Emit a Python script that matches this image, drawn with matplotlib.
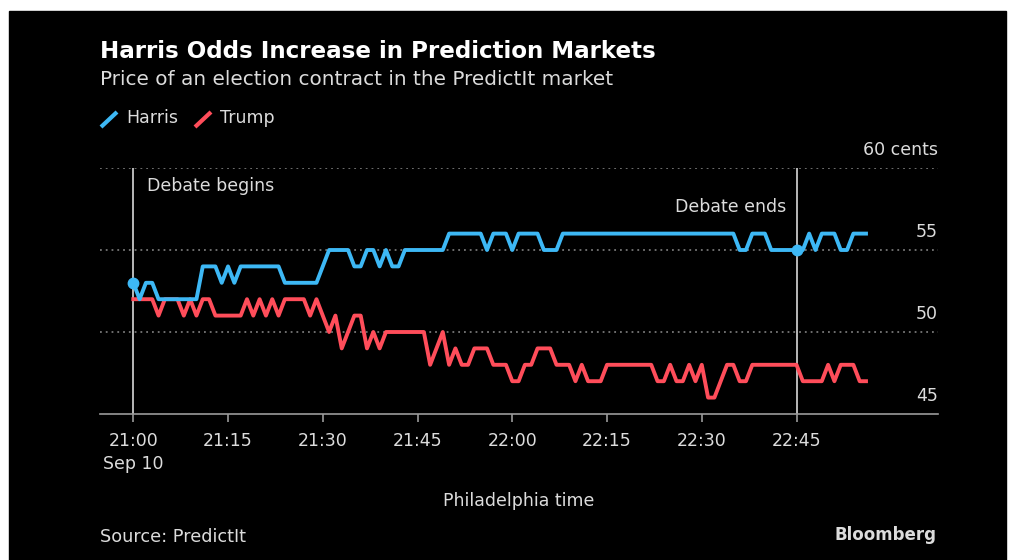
import matplotlib
matplotlib.use("Agg")
import matplotlib.pyplot as plt
from matplotlib.lines import Line2D
from matplotlib.patches import Rectangle
import pandas as pd

# PredictIt contract price (cents), one reading per minute from 21:00
harris = [53, 52, 53, 53, 52, 52, 52, 52, 52, 52,
          52, 54, 54, 54, 53, 54, 53, 54, 54, 54,
          54, 54, 54, 54, 53, 53, 53, 53, 53, 53,
          54, 55, 55, 55, 55, 54, 54, 55, 55, 54,
          55, 54, 54, 55, 55, 55, 55, 55, 55, 55,
          56, 56, 56, 56, 56, 56, 55, 56, 56, 56,
          55, 56, 56, 56, 56, 55, 55, 55, 56, 56,
          56, 56, 56, 56, 56, 56, 56, 56, 56, 56,
          56, 56, 56, 56, 56, 56, 56, 56, 56, 56,
          56, 56, 56, 56, 56, 56, 55, 55, 56, 56,
          56, 55, 55, 55, 55, 55, 55, 56, 55, 56,
          56, 56, 55, 55, 56, 56, 56]
trump = [52, 52, 52, 52, 51, 52, 52, 52, 51, 52,
         51, 52, 52, 51, 51, 51, 51, 51, 52, 51,
         52, 51, 52, 51, 52, 52, 52, 52, 51, 52,
         51, 50, 51, 49, 50, 51, 51, 49, 50, 49,
         50, 50, 50, 50, 50, 50, 50, 48, 49, 50,
         48, 49, 48, 48, 49, 49, 49, 48, 48, 48,
         47, 47, 48, 48, 49, 49, 49, 48, 48, 48,
         47, 48, 47, 47, 47, 48, 48, 48, 48, 48,
         48, 48, 48, 47, 47, 48, 47, 47, 48, 47,
         48, 46, 46, 47, 48, 48, 47, 47, 48, 48,
         48, 48, 48, 48, 48, 48, 47, 47, 47, 47,
         48, 47, 48, 48, 48, 47, 47]
start_time = "2024-09-10 21:00"
debate_begins = "2024-09-10 21:00"
debate_ends = "2024-09-10 22:45"
tick_times = ["21:00", "21:15", "21:30", "21:45", "22:00", "22:15", "22:30", "22:45"]
tick_labels = ["21:00\nSep 10", "21:15", "21:30", "21:45", "22:00", "22:15", "22:30", "22:45"]
y_ticks = [45, 50, 55, 60]
y_labels = ["45", "50", "55", "60 cents"]

times = pd.date_range(start_time, periods=len(harris), freq="min")
df = pd.DataFrame({"harris": harris, "trump": trump}, index=times)

BLUE = "#3db8f5"
RED = "#ff4d5a"
TXT = "#dcdcdc"
W, H = 1017, 560

fig = plt.figure(figsize=(W / 100, H / 100), dpi=100, facecolor="white")
fig.patches.append(Rectangle((9 / W, 0), (1006 - 9) / W, 1 - 11 / H,
                             transform=fig.transFigure, color="black", zorder=-5))

ax = fig.add_axes([100 / W, 1 - 414 / H, (938 - 100) / W, (414 - 168) / H])
ax.set_facecolor("black")
for s in ["top", "left", "right"]:
    ax.spines[s].set_visible(False)
ax.spines["bottom"].set_color("#9a9a9a")
ax.spines["bottom"].set_linewidth(1.2)

# red first so blue sits on top where they touch
ax.plot(df.index, df["trump"], color=RED, lw=2.8, solid_joinstyle="round", zorder=3)
ax.plot(df.index, df["harris"], color=BLUE, lw=2.8, solid_joinstyle="round", zorder=3)

t_begin = pd.Timestamp(debate_begins)
t_end = pd.Timestamp(debate_ends)
for t in [t_begin, t_end]:
    ax.axvline(t, color="#d8d8d8", lw=1.2, zorder=2)
ax.plot([t_begin, t_end], [df.loc[t_begin, "harris"], df.loc[t_end, "harris"]],
        ls="none", marker="o", ms=7.5, color=BLUE, zorder=4)

t0 = times[0]
ax.set_xlim(t0 - pd.Timedelta(minutes=5.27), t0 + pd.Timedelta(minutes=127.4))
ax.set_ylim(45, 60)

for v in y_ticks[1:]:
    ax.axhline(v, color="#777777", lw=1.3, ls=(0, (1, 2.2)), zorder=1)
ax.set_yticks([])
for v, lab in zip(y_ticks, y_labels):
    ax.annotate(lab, xy=(1, v), xycoords=ax.get_yaxis_transform(),
                xytext=(0, 13), textcoords="offset points",
                ha="right", va="center", color=TXT, fontsize=12.5)

day = t0.strftime("%Y-%m-%d")
ax.set_xticks([pd.Timestamp(f"{day} {t}") for t in tick_times])
ax.set_xticklabels(tick_labels, fontsize=12.5, color=TXT, linespacing=1.35)
for lab in ax.get_xticklabels():
    lab.set_verticalalignment("top")
ax.tick_params(axis="x", colors="#9a9a9a", length=6, width=1.2, pad=7, labelcolor=TXT)

ax.text(t_begin + pd.Timedelta(minutes=2.2), 58.9, "Debate begins", color=TXT,
        fontsize=12.5, ha="left", va="center")
ax.text(t_end - pd.Timedelta(minutes=1.7), 57.6, "Debate ends", color=TXT,
        fontsize=12.5, ha="right", va="center")

ax.set_xlabel("Philadelphia time", color=TXT, fontsize=12.5, labelpad=13.5)

fig.text(100 / W, 1 - 52 / H, "Harris Odds Increase in Prediction Markets",
         color="white", fontsize=16.6, fontweight="bold", va="center", ha="left")
fig.text(100 / W, 1 - 80 / H, "Price of an election contract in the PredictIt market",
         color=TXT, fontsize=14.4, va="center", ha="left")

# legend with slanted line markers
for x0, col, name in [(101, BLUE, "Harris"), (195, RED, "Trump")]:
    fig.add_artist(Line2D([x0 / W, (x0 + 16) / W], [1 - 127 / H, 1 - 112 / H],
                          transform=fig.transFigure, color=col, lw=3,
                          solid_capstyle="butt"))
    fig.text((x0 + 25) / W, 1 - 118 / H, name, color=TXT, fontsize=12.5,
             va="center", ha="left")

fig.text(100 / W, 1 - 537 / H, "Source: PredictIt", color=TXT, fontsize=12.7,
         va="center", ha="left")
fig.text(936 / W, 1 - 535 / H, "Bloomberg", color=TXT, fontsize=12,
         fontweight="bold", va="center", ha="right")

fig.savefig("out.png", dpi=100, facecolor="white")
